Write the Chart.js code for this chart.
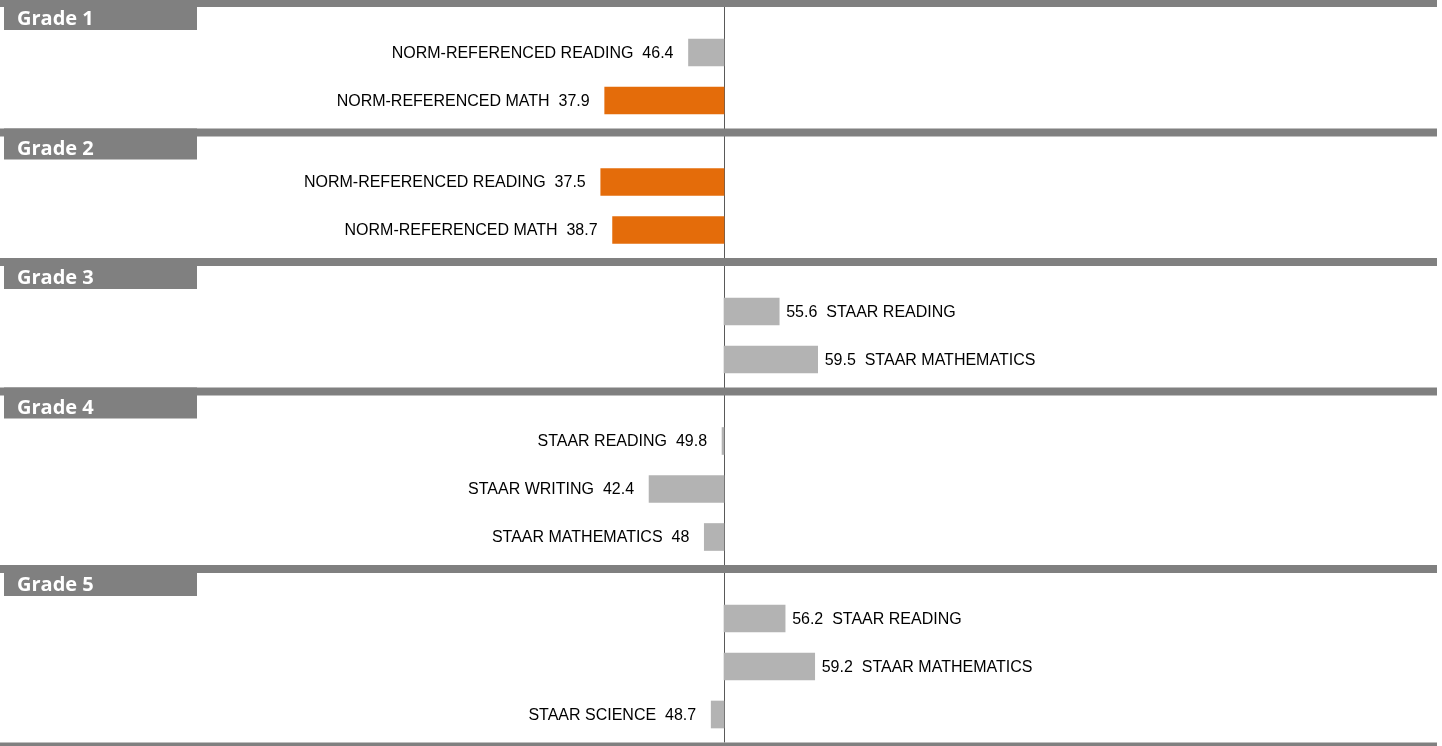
<!DOCTYPE html>
<html>
<head>
<meta charset="utf-8">
<script src="https://cdn.jsdelivr.net/npm/chart.js@4/dist/chart.umd.min.js"></script>
<style>
  html, body { margin: 0; padding: 0; background: #fff; }
  canvas { display: block; }
</style>
</head>
<body>
<canvas id="myChart" width="1442" height="746"></canvas>
<script>
// data
const grades = ['Grade 1', 'Grade 2', 'Grade 3', 'Grade 4', 'Grade 5'];
const tests = [
  ['NORM-REFERENCED READING', 'NORM-REFERENCED MATH'],
  ['NORM-REFERENCED READING', 'NORM-REFERENCED MATH'],
  ['STAAR READING', 'STAAR MATHEMATICS'],
  ['STAAR READING', 'STAAR WRITING', 'STAAR MATHEMATICS'],
  ['STAAR READING', 'STAAR MATHEMATICS', 'STAAR SCIENCE']
];
const scores = [
  [46.4, 37.9],
  [37.5, 38.7],
  [55.6, 59.5],
  [49.8, 42.4, 48],
  [56.2, 59.2, 48.7]
];
const midpoint = 50;
const lowCutoff = 40;

// layout (y axis runs in canvas pixels)
const firstLine = -1;
const headGap = 53.5;
const rowPitch = 48;
const tailGap = 28;

const rows = [];
const headers = [];
let lineY = firstLine;
grades.forEach((g, gi) => {
  headers.push({ label: g, y: lineY });
  tests[gi].forEach((name, i) => {
    rows.push({ name: name, value: scores[gi][i], y: lineY + headGap + rowPitch * i });
  });
  lineY += headGap + rowPitch * (tests[gi].length - 1) + tailGap;
});
const bottomLine = lineY;

const LABEL_FONT = '16px "Liberation Sans", Arial, sans-serif';

const centerLine = {
  id: 'centerLine',
  beforeDatasetsDraw(chart) {
    const ctx = chart.ctx;
    const x = Math.round(chart.scales.x.getPixelForValue(midpoint)) + 0.5;
    ctx.save();
    ctx.strokeStyle = '#595959';
    ctx.lineWidth = 1;
    ctx.beginPath();
    ctx.moveTo(x, 0);
    ctx.lineTo(x, chart.scales.y.getPixelForValue(bottomLine));
    ctx.stroke();
    ctx.restore();
  }
};

const barLabels = {
  id: 'barLabels',
  afterDatasetsDraw(chart) {
    const ctx = chart.ctx;
    const xs = chart.scales.x;
    const meta = chart.getDatasetMeta(0);
    ctx.save();
    ctx.font = LABEL_FONT;
    ctx.fillStyle = '#000';
    ctx.textBaseline = 'middle';
    meta.data.forEach((bar, i) => {
      const r = rows[i];
      const end = xs.getPixelForValue(r.value);
      if (r.value < midpoint) {
        ctx.textAlign = 'right';
        ctx.fillText(r.name + '  ' + r.value, end - 15, bar.y + 1);
      } else {
        ctx.textAlign = 'left';
        ctx.fillText(r.value + '  ' + r.name, end + 7, bar.y + 1);
      }
    });
    ctx.restore();
  }
};

const gradeHeaders = {
  id: 'gradeHeaders',
  afterDatasetsDraw(chart) {
    const ctx = chart.ctx;
    const ys = chart.scales.y;
    ctx.save();
    headers.forEach(h => {
      const y = ys.getPixelForValue(h.y);
      ctx.fillStyle = '#808080';
      ctx.fillRect(0, y, 1437, 8);
      ctx.fillRect(4, y, 193, 31);
      ctx.fillStyle = '#fff';
      ctx.font = 'bold 20px "Open Sans", sans-serif';
      ctx.textAlign = 'left';
      ctx.textBaseline = 'alphabetic';
      ctx.fillText(h.label, 17, y + 26);
    });
    ctx.fillStyle = '#808080';
    ctx.fillRect(0, ys.getPixelForValue(bottomLine), 1437, 8);
    ctx.restore();
  }
};

new Chart(document.getElementById('myChart').getContext('2d'), {
  type: 'bar',
  data: {
    datasets: [{
      data: rows.map(r => ({ x: [midpoint, r.value], y: r.y })),
      backgroundColor: rows.map(r => r.value < lowCutoff ? '#E46C0A' : '#B3B3B3'),
      borderWidth: 0,
      barThickness: 27
    }]
  },
  options: {
    indexAxis: 'y',
    responsive: false,
    animation: false,
    layout: { padding: { left: 231, right: 225, top: 0, bottom: 0 } },
    plugins: { legend: { display: false }, tooltip: { enabled: false } },
    scales: {
      x: { type: 'linear', min: 0, max: 100, display: false },
      y: { type: 'linear', min: 0, max: 746, reverse: true, offset: false, display: false }
    }
  },
  plugins: [centerLine, barLabels, gradeHeaders]
});
</script>
</body>
</html>
